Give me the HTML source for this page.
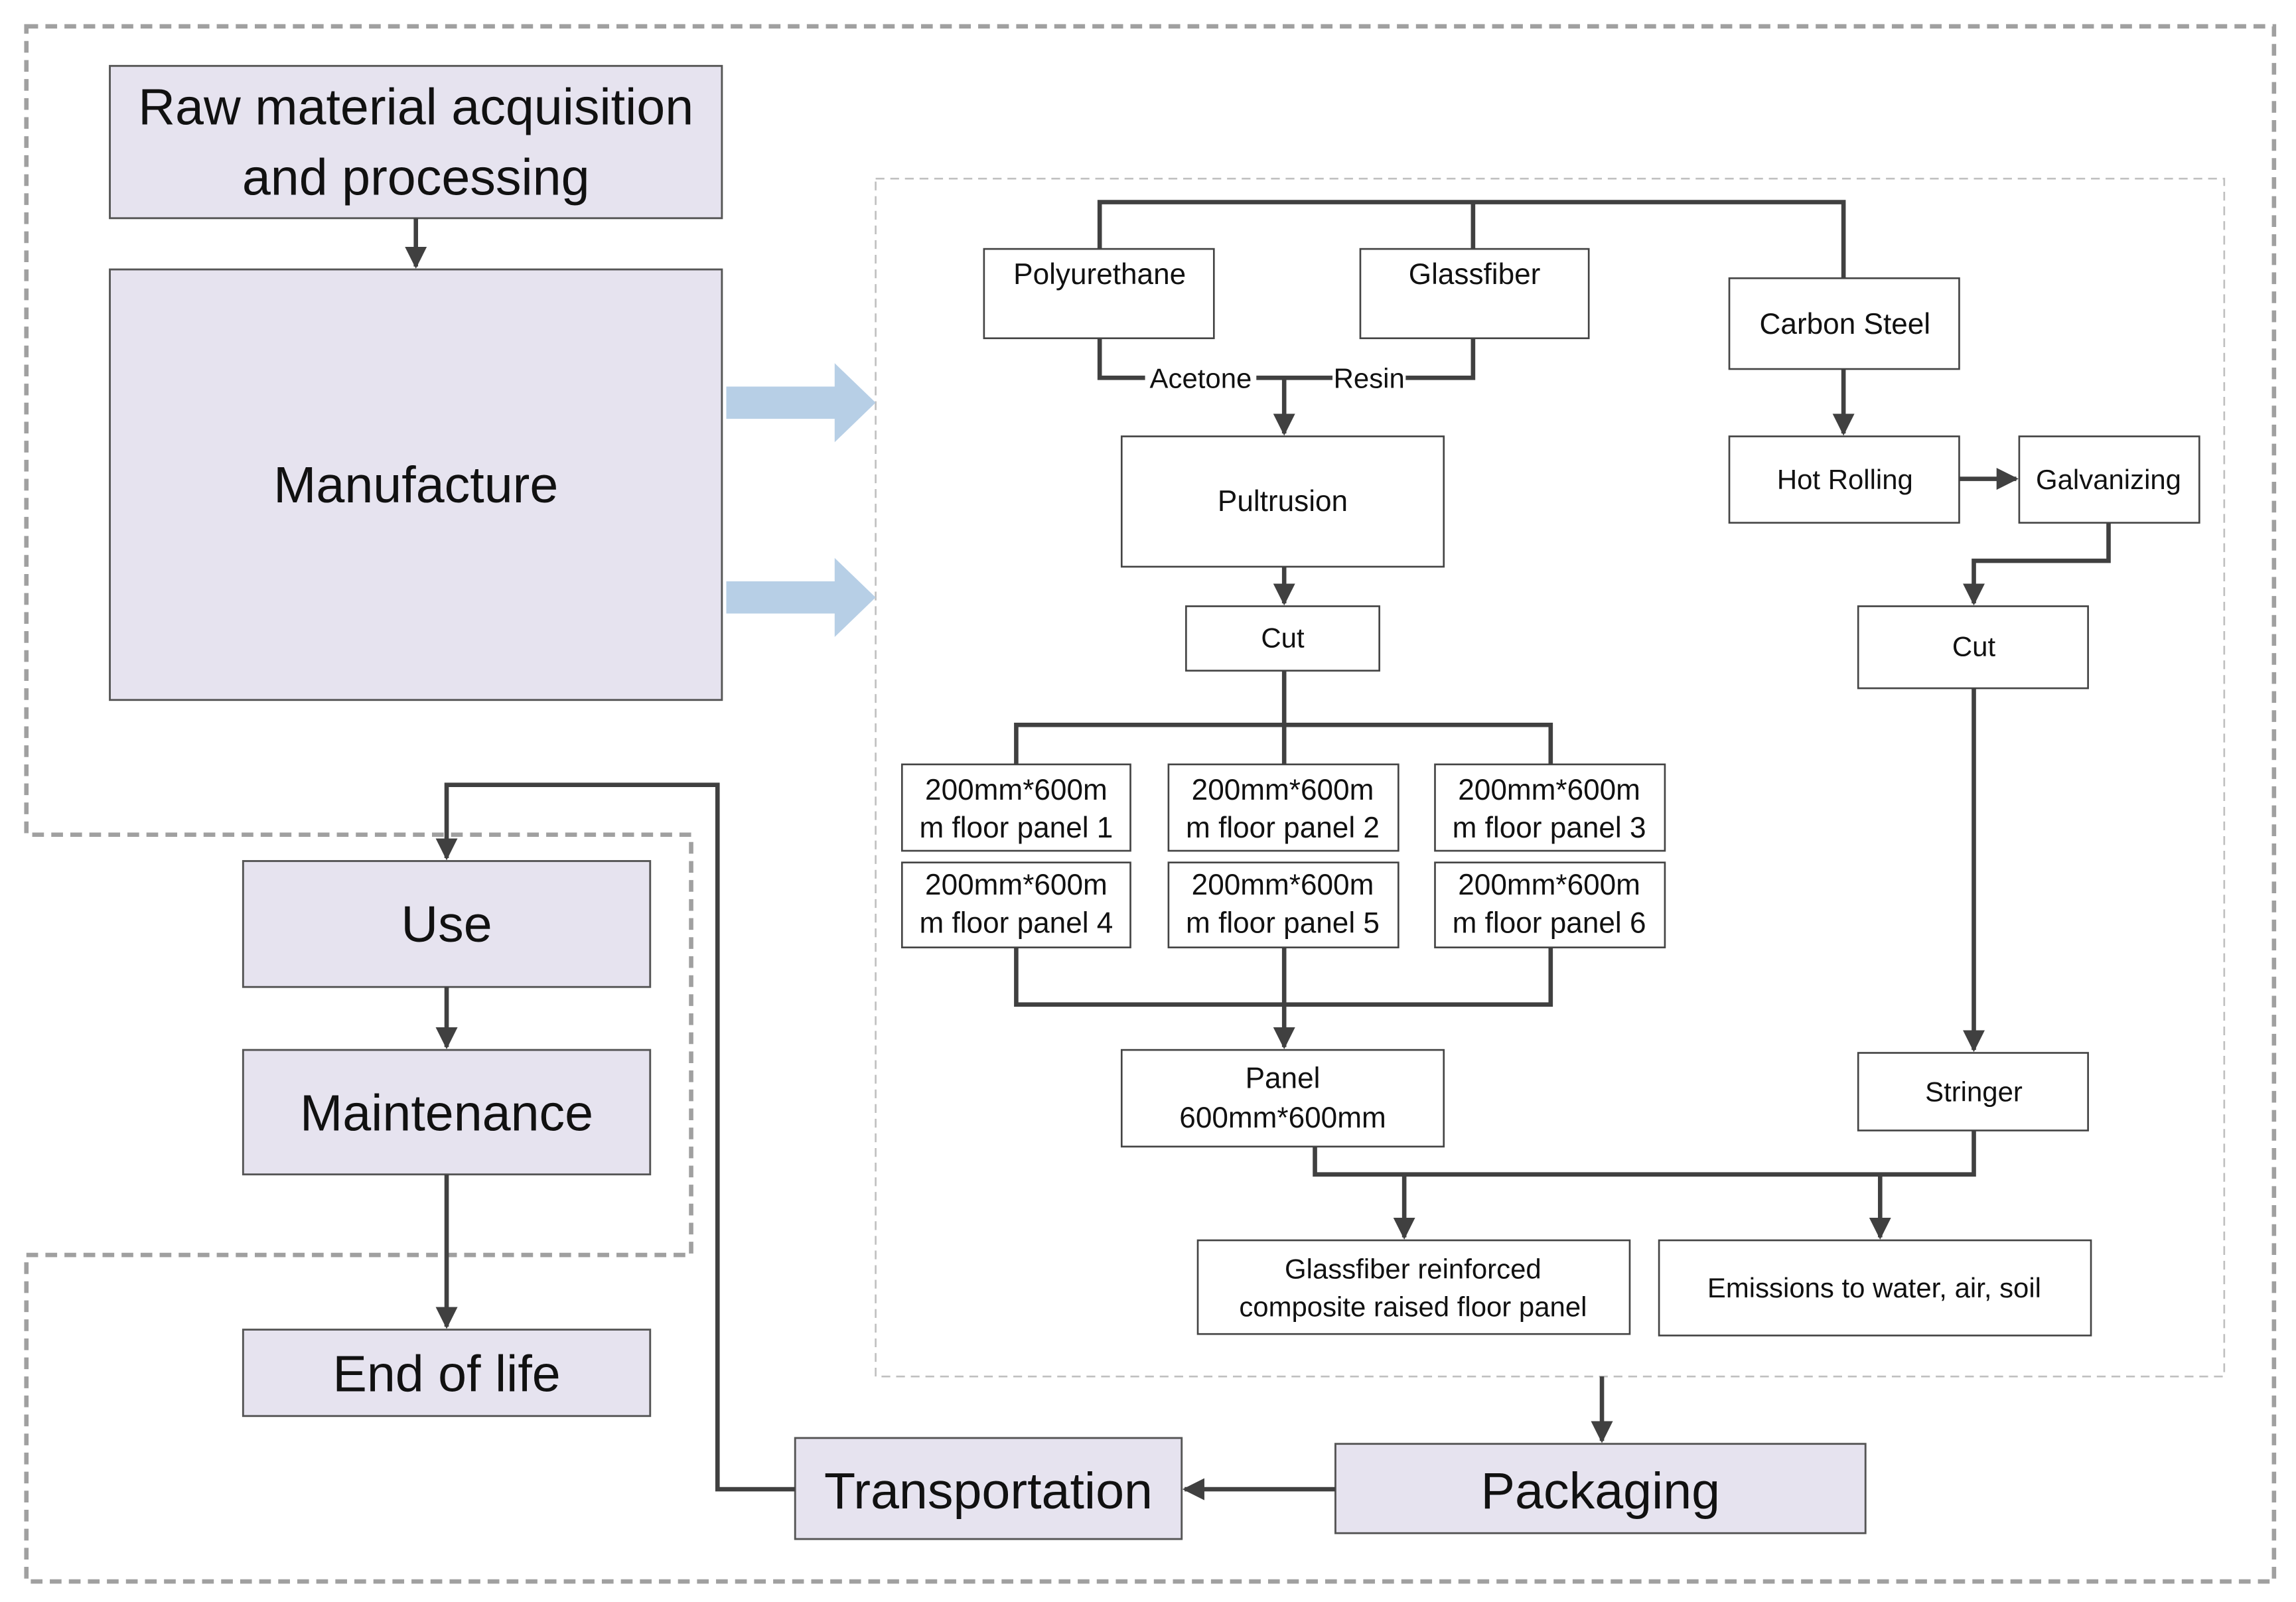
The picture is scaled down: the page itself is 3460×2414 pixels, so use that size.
<!DOCTYPE html>
<html><head><meta charset="utf-8"><style>
html,body{margin:0;padding:0;background:#fff;}
svg{display:block;}
text{font-family:"Liberation Sans",sans-serif;fill:#111;}
</style></head><body>
<svg width="3460" height="2414" viewBox="0 0 1568 1094" xmlns="http://www.w3.org/2000/svg">
<defs>
<marker id="a" viewBox="0 0 10 10" refX="9" refY="5" markerWidth="5" markerHeight="5" orient="auto" markerUnits="strokeWidth">
<path d="M0,0 L10,5 L0,10 z" fill="#404040"/></marker>
</defs>
<rect width="1568" height="1094" fill="#fff"/>
<!-- outer dashed -->
<path d="M18,18 H1553 V1080 H18 V857 H472 V570 H18 Z" fill="none" stroke="#a0a0a0" stroke-width="3" stroke-dasharray="8,5"/>
<rect x="598" y="122" width="921" height="818" fill="none" stroke="#c0c0c0" stroke-width="1.2" stroke-dasharray="6,4"/>
<!-- blue arrows -->
<path d="M496,264 H570 V248 L598,275 L570,302 V286 H496 Z" fill="#b7cfe6"/>
<path d="M496,397 H570 V381 L598,408 L570,435 V419 H496 Z" fill="#b7cfe6"/>
<!-- lavender boxes -->
<g fill="#e6e3ef" stroke="#555" stroke-width="1.3">
<rect x="75" y="45" width="418" height="104"/>
<rect x="75" y="184" width="418" height="294"/>
<rect x="166" y="588" width="278" height="86"/>
<rect x="166" y="717" width="278" height="85"/>
<rect x="166" y="908" width="278" height="59"/>
<rect x="543" y="982" width="264" height="69"/>
<rect x="912" y="986" width="362" height="61"/>
</g>
<g font-size="35" text-anchor="middle">
<text x="284" y="85">Raw material acquisition</text>
<text x="284" y="133">and processing</text>
<text x="284" y="343">Manufacture</text>
<text x="305" y="643">Use</text>
<text x="305" y="772">Maintenance</text>
<text x="305" y="950">End of life</text>
<text x="675" y="1030">Transportation</text>
<text x="1093" y="1030">Packaging</text>
</g>
<!-- white boxes -->
<g fill="#fff" stroke="#444" stroke-width="1.2">
<rect x="672" y="170" width="157" height="61"/>
<rect x="929" y="170" width="156" height="61"/>
<rect x="1181" y="190" width="157" height="62"/>
<rect x="766" y="298" width="220" height="89"/>
<rect x="1181" y="298" width="157" height="59"/>
<rect x="1379" y="298" width="123" height="59"/>
<rect x="810" y="414" width="132" height="44"/>
<rect x="1269" y="414" width="157" height="56"/>
<rect x="616" y="522" width="156" height="59"/>
<rect x="798" y="522" width="157" height="59"/>
<rect x="980" y="522" width="157" height="59"/>
<rect x="616" y="589" width="156" height="58"/>
<rect x="798" y="589" width="157" height="58"/>
<rect x="980" y="589" width="157" height="58"/>
<rect x="766" y="717" width="220" height="66"/>
<rect x="1269" y="719" width="157" height="53"/>
<rect x="818" y="847" width="295" height="64"/>
<rect x="1133" y="847" width="295" height="65"/>
</g>
<g font-size="20" text-anchor="middle">
<text x="751" y="194">Polyurethane</text>
<text x="1007" y="194">Glassfiber</text>
<text x="1260" y="228">Carbon Steel</text>
<text x="876" y="349">Pultrusion</text>
<text x="1260" y="334" font-size="19">Hot Rolling</text>
<text x="1440" y="334" font-size="19">Galvanizing</text>
<text x="876" y="442" font-size="19">Cut</text>
<text x="1348" y="448" font-size="19">Cut</text>
<text x="694" y="546">200mm*600m</text><text x="694" y="572">m floor panel 1</text>
<text x="876" y="546">200mm*600m</text><text x="876" y="572">m floor panel 2</text>
<text x="1058" y="546">200mm*600m</text><text x="1058" y="572">m floor panel 3</text>
<text x="694" y="611">200mm*600m</text><text x="694" y="637">m floor panel 4</text>
<text x="876" y="611">200mm*600m</text><text x="876" y="637">m floor panel 5</text>
<text x="1058" y="611">200mm*600m</text><text x="1058" y="637">m floor panel 6</text>
<text x="876" y="743">Panel</text>
<text x="876" y="770">600mm*600mm</text>
<text x="1348" y="752" font-size="19">Stringer</text>
<text x="965" y="873" font-size="19">Glassfiber reinforced</text>
<text x="965" y="899" font-size="19">composite raised floor panel</text>
<text x="1280" y="886" font-size="19">Emissions to water, air, soil</text>
</g>
<!-- connectors -->
<g fill="none" stroke="#404040" stroke-width="3">
<path d="M751,170 V138 H1259 V190 M1006,138 V170"/>
<path d="M751,231 V258 H782 M858,258 H910 M960,258 H1006 V231"/>
<path d="M877,258 V296" marker-end="url(#a)"/>
<path d="M877,387 V412" marker-end="url(#a)"/>
<path d="M877,458 V522 M694,522 V495 H1059 V522"/>
<path d="M694,647 V686 H1059 V647"/>
<path d="M877,647 V715" marker-end="url(#a)"/>
<path d="M1259,252 V296" marker-end="url(#a)"/>
<path d="M1338,327 H1377" marker-end="url(#a)"/>
<path d="M1440,357 V383 H1348 V412" marker-end="url(#a)"/>
<path d="M1348,470 V717" marker-end="url(#a)"/>
<path d="M898,783 V802 H1348 V772"/>
<path d="M959,802 V845" marker-end="url(#a)"/>
<path d="M1284,802 V845" marker-end="url(#a)"/>
<path d="M1094,940 V984" marker-end="url(#a)"/>
<path d="M912,1017 H809" marker-end="url(#a)"/>
<path d="M543,1017 H490 V536 H305 V586" marker-end="url(#a)"/>
<path d="M284,149 V182" marker-end="url(#a)"/>
<path d="M305,674 V715" marker-end="url(#a)"/>
<path d="M305,802 V906" marker-end="url(#a)"/>
</g>
<g font-size="19" text-anchor="middle">
<text x="820" y="265">Acetone</text>
<text x="935" y="265">Resin</text>
</g>
</svg>
</body></html>
